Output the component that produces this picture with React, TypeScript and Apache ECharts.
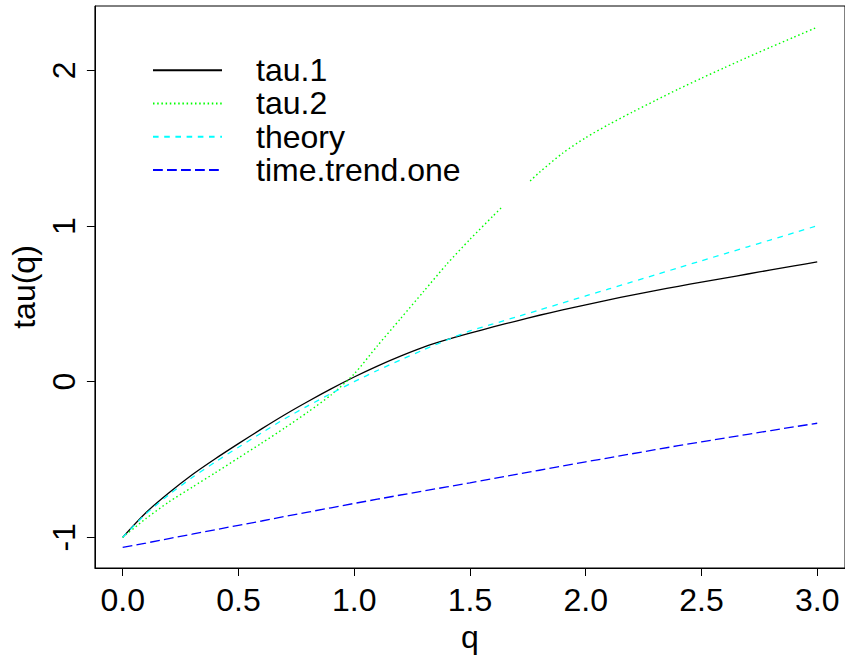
import React, { useEffect, useRef } from "react";
import * as echarts from "echarts";

// q grid shared by tau.1, theory and time.trend.one
const Q = [0, 0.1, 0.2, 0.3, 0.4, 0.5, 0.6, 0.7, 0.8, 0.9, 1.0, 1.1, 1.2, 1.3, 1.4, 1.5, 1.6, 1.7, 1.8, 1.9, 2.0, 2.1, 2.2, 2.3, 2.4, 2.5, 2.6, 2.7, 2.8, 2.9, 3.0];

const TAU1 = [-1.0, -0.842, -0.714, -0.598, -0.495, -0.398, -0.303, -0.212, -0.127, -0.046, 0.03, 0.1, 0.164, 0.222, 0.27, 0.312, 0.352, 0.39, 0.427, 0.461, 0.494, 0.526, 0.556, 0.585, 0.613, 0.64, 0.666, 0.692, 0.718, 0.744, 0.77];

const THEORY = [-1.0, -0.85, -0.726, -0.616, -0.516, -0.421, -0.329, -0.238, -0.155, -0.076, 0.0, 0.072, 0.14, 0.205, 0.268, 0.326, 0.371, 0.416, 0.461, 0.506, 0.551, 0.596, 0.641, 0.686, 0.732, 0.777, 0.822, 0.867, 0.912, 0.957, 1.002];

const TIME_TREND_ONE = [-1.065, -1.037, -1.008, -0.98, -0.951, -0.923, -0.895, -0.866, -0.838, -0.81, -0.782, -0.755, -0.728, -0.702, -0.676, -0.65, -0.623, -0.596, -0.569, -0.542, -0.515, -0.489, -0.463, -0.437, -0.411, -0.386, -0.362, -0.338, -0.314, -0.29, -0.267];

// tau.2 has its own q grid (with a missing stretch)
const TAU2_Q = [0, 0.1, 0.2, 0.3, 0.4, 0.5, 0.6, 0.7, 0.8, 0.9, 1.0, 1.1, 1.2, 1.3, 1.4, 1.5, 1.6, 1.64, 1.7, 1.76, 1.8, 1.9, 2.0, 2.1, 2.2, 2.3, 2.4, 2.5, 2.6, 2.7, 2.8, 2.9, 3.0];
const TAU2 = [-1.0, -0.88, -0.772, -0.678, -0.585, -0.49, -0.395, -0.297, -0.195, -0.085, 0.05, 0.23, 0.405, 0.58, 0.755, 0.915, 1.065, 1.125, null, 1.29, 1.345, 1.468, 1.568, 1.653, 1.731, 1.806, 1.88, 1.95, 2.018, 2.085, 2.15, 2.214, 2.278];

const X_TICKS = [0, 0.5, 1.0, 1.5, 2.0, 2.5, 3.0];
const Y_TICKS = [-1, 0, 1, 2];
const LEGEND_NAMES = ["tau.1", "tau.2", "theory", "time.trend.one"];

const FONT = "'Liberation Sans', Arial, Helvetica, sans-serif";

export default function App() {
  const ref = useRef<HTMLDivElement>(null);
  useEffect(() => {
    if (!ref.current) return;
    const chart = echarts.init(ref.current, null, { renderer: "svg" });
    const pair = (xs: number[], ys: (number | null)[]) => xs.map((x, i) => [x, ys[i]]);
    chart.setOption({
      animation: false,
      backgroundColor: "#ffffff",
      textStyle: { fontFamily: FONT, color: "#000" },
      grid: {
        left: 90,
        top: 6,
        width: 758,
        height: 562,
        show: true,
        borderColor: "#000",
        borderWidth: 1,
        backgroundColor: "transparent",
      },
      legend: {
        orient: "vertical",
        left: 152,
        top: 53.5,
        padding: 0,
        itemWidth: 69,
        itemHeight: 14,
        itemGap: 0,
        selectedMode: false,
        data: LEGEND_NAMES,
        itemStyle: { opacity: 0, borderWidth: 0 },
        textStyle: {
          fontFamily: FONT,
          fontSize: 32,
          color: "#000",
          lineHeight: 33.3,
          padding: [0, 0, 0, 29],
        },
      },
      xAxis: {
        type: "value",
        min: -0.12,
        max: 3.12,
        name: "q",
        nameLocation: "middle",
        nameGap: 48,
        nameTextStyle: { fontFamily: FONT, fontSize: 32, color: "#000" },
        axisLine: { show: true, onZero: false, lineStyle: { color: "#000", width: 1 } },
        axisTick: { show: true, inside: false, length: 8, customValues: X_TICKS, lineStyle: { color: "#000", width: 1 } },
        axisLabel: {
          customValues: X_TICKS,
          formatter: (v: number) => v.toFixed(1),
          fontFamily: FONT,
          fontSize: 32,
          color: "#000",
          margin: 16,
        },
        splitLine: { show: false },
      },
      yAxis: {
        type: "value",
        min: -1.197,
        max: 2.414,
        name: "tau(q)",
        nameLocation: "middle",
        nameRotate: 90,
        nameGap: 46,
        nameTextStyle: { fontFamily: FONT, fontSize: 32, color: "#000" },
        axisLine: { show: true, onZero: false, lineStyle: { color: "#000", width: 1 } },
        axisTick: { show: true, inside: false, length: 8, customValues: Y_TICKS, lineStyle: { color: "#000", width: 1 } },
        axisLabel: {
          customValues: Y_TICKS,
          rotate: 90,
          formatter: (v: number) => String(v),
          fontFamily: FONT,
          fontSize: 32,
          color: "#000",
          margin: 15,
        },
        splitLine: { show: false },
      },
      series: [
        {
          name: "tau.1",
          type: "line",
          data: pair(Q, TAU1),
          symbol: "none",
          smooth: 0.25,
          silent: true,
          itemStyle: { color: "#000000" },
          lineStyle: { color: "#000000", width: 1.3, type: "solid" },
        },
        {
          name: "tau.2",
          type: "line",
          data: pair(TAU2_Q, TAU2),
          symbol: "none",
          smooth: 0.25,
          connectNulls: false,
          silent: true,
          itemStyle: { color: "#00ff00" },
          lineStyle: { color: "#00ff00", width: 1.4, type: [1.5, 2.7] },
        },
        {
          name: "theory",
          type: "line",
          data: pair(Q, THEORY),
          symbol: "none",
          smooth: 0.25,
          silent: true,
          itemStyle: { color: "#00ffff" },
          lineStyle: { color: "#00ffff", width: 1.3, type: [5.6, 5.6] },
        },
        {
          name: "time.trend.one",
          type: "line",
          data: pair(Q, TIME_TREND_ONE),
          symbol: "none",
          silent: true,
          itemStyle: { color: "#0000ff" },
          lineStyle: { color: "#0000ff", width: 1.3, type: [9.8, 4.2] },
        },
      ],
    });
    return () => chart.dispose();
  }, []);
  return (
    <div
      ref={ref}
      style={{ position: "absolute", left: 0, top: 0, width: 845, height: 658, background: "#fff" }}
    />
  );
}
